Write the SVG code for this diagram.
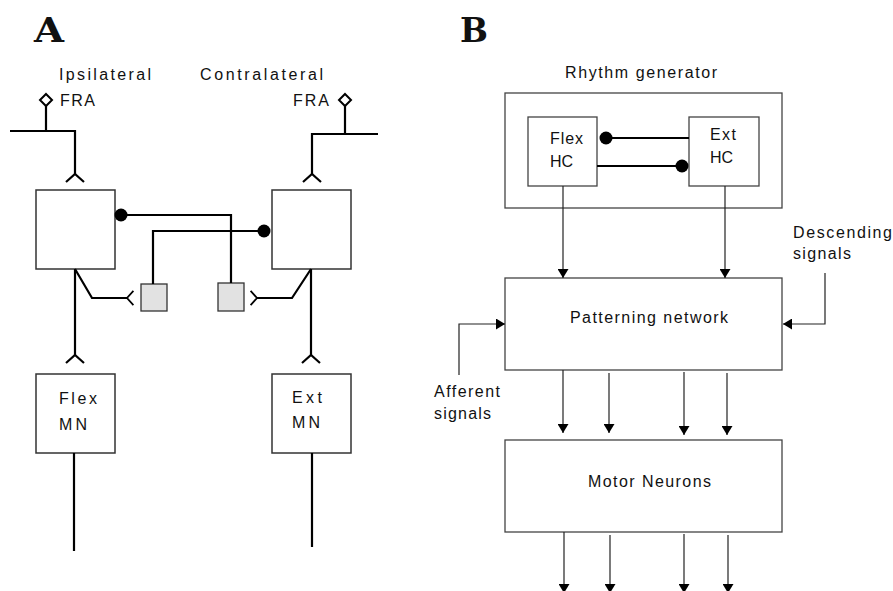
<svg xmlns="http://www.w3.org/2000/svg" width="893" height="591" viewBox="0 0 893 591">
<style>
.lbl{font-family:"Liberation Sans",Arial,sans-serif;font-size:16px;fill:#111}
.lblb{font-family:"Liberation Sans",Arial,sans-serif;font-size:16px;fill:#111}
.panel{font-family:"DejaVu Serif",serif;font-weight:bold;font-size:33px;fill:#111}
.box{fill:#fff;stroke:#333;stroke-width:1.5}
.gbox{fill:#e2e2e2;stroke:#333;stroke-width:1.3}
.thick{fill:none;stroke:#000;stroke-width:2.2}
.thin{fill:none;stroke:#222;stroke-width:1.2}
.bbox{fill:#fff;stroke:#444;stroke-width:1.3}
.dot{fill:#000;stroke:none}
.diam{fill:#fff;stroke:#000;stroke-width:2}
</style>
<defs>
<marker id="arr" markerUnits="userSpaceOnUse" markerWidth="9" markerHeight="11" refX="9" refY="5.5" orient="auto" viewBox="0 0 9 11">
<path d="M0,0 L9,5.5 L0,11 z" fill="#000"/>
</marker>
<path id="fork" d="M-9,8 L0,0 L9,8"/>
</defs>

<text class="panel" x="34" y="42" textLength="30" lengthAdjust="spacingAndGlyphs">A</text>
<text class="panel" x="460" y="42" textLength="28" lengthAdjust="spacingAndGlyphs">B</text>

<!-- Panel A -->
<g id="ipsi-input">
<path class="diam" d="M46,94 L52,100 L46,106 L40,100 Z"/>
<text class="lbl" x="59" y="80" textLength="92" lengthAdjust="spacing">Ipsilateral</text>
<text class="lbl" x="60" y="106" textLength="35" lengthAdjust="spacing">FRA</text>
</g>
<g id="contra-input">
<path class="diam" d="M345,94 L351,100 L345,106 L339,100 Z"/>
<text class="lbl" x="200" y="80" textLength="123" lengthAdjust="spacing">Contralateral</text>
<text class="lbl" x="293" y="106" textLength="36" lengthAdjust="spacing">FRA</text>
</g>
<g id="left-in"><rect class="box" x="36" y="190" width="79" height="79"/></g>
<g id="right-in"><rect class="box" x="272" y="190" width="79" height="79"/></g>
<g id="left-inh"><rect class="gbox" x="141" y="284" width="26" height="27"/></g>
<g id="right-inh"><rect class="gbox" x="218" y="283" width="26" height="28"/></g>
<g id="flex-mn">
<rect class="box" x="36" y="374" width="79" height="79"/>
<text class="lbl" x="59" y="404" textLength="38" lengthAdjust="spacing">Flex</text>
<text class="lbl" x="59" y="430" textLength="28" lengthAdjust="spacing">MN</text>
</g>
<g id="ext-mn">
<rect class="box" x="272" y="374" width="79" height="79"/>
<text class="lbl" x="292" y="403" textLength="30" lengthAdjust="spacing">Ext</text>
<text class="lbl" x="292" y="428" textLength="28" lengthAdjust="spacing">MN</text>
</g>

<g id="connectors-a" class="thick">
<path d="M46,106 V131 M10,131 H75 V174"/>
<use href="#fork" transform="translate(75,174)"/>
<path d="M345,106 V134 M378,134 H312 V174"/>
<use href="#fork" transform="translate(312,174)"/>
<path d="M121,215 H231 V283"/>
<path d="M264,231 H153 V284"/>
<path d="M75,269 L92,298 H127"/>
<use href="#fork" transform="translate(127,298) rotate(-90) scale(0.8)"/>
<path d="M311,269 L292,298 H257"/>
<use href="#fork" transform="translate(257,298) rotate(90) scale(0.8)"/>
<path d="M75,269 V355"/>
<use href="#fork" transform="translate(75,355)"/>
<path d="M311,269 V355"/>
<use href="#fork" transform="translate(311,355)"/>
<path d="M74,453 V551"/>
<path d="M312,453 V547"/>
<circle class="dot" cx="121" cy="215" r="6.5"/>
<circle class="dot" cx="264" cy="231" r="6.5"/>
</g>

<!-- Panel B -->
<g id="rhythm-generator">
<rect class="bbox" x="505" y="93" width="277" height="115"/>
<text class="lblb" x="565" y="78" textLength="152" lengthAdjust="spacing">Rhythm generator</text>
</g>
<g id="flex-hc">
<rect class="bbox" x="528" y="117" width="69" height="69"/>
<text class="lblb" x="550" y="144" textLength="33" lengthAdjust="spacing">Flex</text>
<text class="lblb" x="550" y="167" textLength="23" lengthAdjust="spacing">HC</text>
</g>
<g id="ext-hc">
<rect class="bbox" x="689" y="117" width="70" height="69"/>
<text class="lblb" x="710" y="140" textLength="26" lengthAdjust="spacing">Ext</text>
<text class="lblb" x="710" y="163" textLength="23" lengthAdjust="spacing">HC</text>
</g>
<g id="patterning-network">
<rect class="bbox" x="505" y="278" width="277" height="92"/>
<text class="lblb" x="570" y="323" textLength="158" lengthAdjust="spacing">Patterning network</text>
</g>
<g id="motor-neurons">
<rect class="bbox" x="505" y="440" width="277" height="92"/>
<text class="lblb" x="588" y="487" textLength="123" lengthAdjust="spacing">Motor Neurons</text>
</g>
<g id="descending">
<text class="lblb" x="793" y="238" textLength="99" lengthAdjust="spacing">Descending</text>
<text class="lblb" x="793" y="259" textLength="58" lengthAdjust="spacing">signals</text>
</g>
<g id="afferent">
<text class="lblb" x="434" y="397" textLength="66" lengthAdjust="spacing">Afferent</text>
<text class="lblb" x="434" y="419" textLength="57" lengthAdjust="spacing">signals</text>
</g>

<g id="connectors-b">
<path class="thick" d="M606,138 H689 M597,166 H682"/>
<circle class="dot" cx="606" cy="138" r="6.5"/>
<circle class="dot" cx="682" cy="166" r="6.5"/>
<g class="thin" marker-end="url(#arr)">
<path d="M563,186 V278"/>
<path d="M725,186 V278"/>
<path d="M825,273 V324 H783"/>
<path d="M459,375 V324 H505"/>
<path d="M563,370 V433"/>
<path d="M609,373 V433"/>
<path d="M684,372 V435"/>
<path d="M727,373 V435"/>
<path d="M564,532 V593"/>
<path d="M610,535 V593"/>
<path d="M684,534 V593"/>
<path d="M728,535 V593"/>
</g>
</g>
</svg>
